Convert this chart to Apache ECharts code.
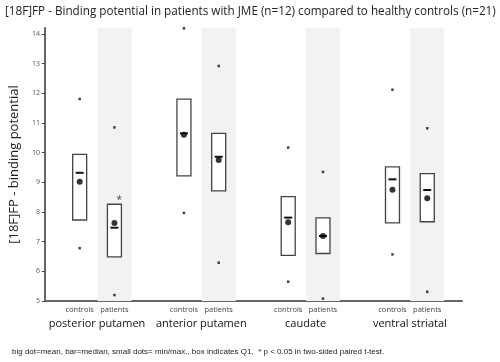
<!DOCTYPE html>
<html><head><meta charset="utf-8">
<script src="https://cdn.jsdelivr.net/npm/echarts@6/dist/echarts.min.js"></script>
<style>html,body{margin:0;padding:0;background:#fff}#c{width:500px;height:362px}</style>
</head><body><div id="c"></div>
<script>
// data
const regions = ["posterior putamen", "anterior putamen", "caudate", "ventral striatal"];
const groups = ["controls", "patients"];
// x positions (value axis units) for each box: controls / patients per region
const xPos = [1, 2, 4, 5, 7, 8, 10, 11];
const boxGroup = ["controls","patients","controls","patients","controls","patients","controls","patients"];
const q1     = [7.73, 6.49, 9.22, 8.71, 6.54, 6.60, 7.63, 7.67];
const q3     = [9.94, 8.26, 11.80, 10.65, 8.52, 7.80, 9.52, 9.29];
const median = [9.32, 7.47, 10.65, 9.86, 7.81, 7.19, 9.10, 8.74];
const mean   = [9.02, 7.63, 10.60, 9.75, 7.65, 7.19, 8.75, 8.46];
const minV   = [6.78, 5.20, 7.97, 6.29, 5.65, 5.08, 6.57, 5.31];
const maxV   = [11.81, 10.85, 14.19, 12.92, 10.17, 9.35, 12.12, 10.82];
const signif = [false, true, false, false, false, false, false, false];
const yTicks = [5, 6, 7, 8, 9, 10, 11, 12, 13, 14];
const title = "[18F]FP - Binding potential in patients with JME (n=12) compared to healthy controls (n=21)";
const yName = "[18F]FP - binding potential";
const footer = "big dot=mean, bar=median, small dots= min/max., box indicates Q1,  * p < 0.05 in two-sided paired t-test.";

const Y_MIN = 5, Y_MAX = 14.2;
const chart = echarts.init(document.getElementById('c'), null, {renderer: 'canvas'});
const FONT = "Open Sans";

const boxData = xPos.map((x, i) => [x, q1[i], q3[i], median[i], signif[i] ? 1 : 0]);
const bandData = xPos.filter((x, i) => boxGroup[i] === "patients").map(x => [x, Y_MAX]);

chart.setOption({
  animation: false,
  textStyle: {fontFamily: FONT},
  title: {text: title, left: 0, top: 1, textStyle: {fontSize: 11.7, fontWeight: 'normal', color: '#222', fontFamily: FONT}},
  graphic: [{type: 'text', left: 12, top: 348, style: {text: footer, fontSize: 8, fill: '#222', fontFamily: 'Liberation Sans'}}],
  grid: {left: 39, right: 38, top: 28, bottom: 61},
  xAxis: [{
    type: 'value', min: 0, max: 12, interval: 1,
    axisLine: {show: true, lineStyle: {color: '#666', width: 2}},
    axisTick: {show: false}, splitLine: {show: false},
    axisLabel: {fontSize: 7.5, color: '#444', margin: 5, fontFamily: FONT,
      formatter: v => { const i = xPos.indexOf(v); return i >= 0 ? boxGroup[i] : ''; }}
  }, {
    type: 'value', position: 'bottom', min: 0, max: 12, interval: 0.5,
    axisLine: {show: false}, axisTick: {show: false}, splitLine: {show: false},
    axisLabel: {fontSize: 11, color: '#111', margin: 17, fontFamily: FONT,
      formatter: v => { const i = xPos.indexOf(v - 0.5); return (i >= 0 && boxGroup[i] === 'controls') ? regions[Math.floor(i/2)] : ''; }}
  }],
  yAxis: {
    type: 'value', min: Y_MIN, max: Y_MAX, interval: 1,
    name: yName, nameLocation: 'middle', nameRotate: 90, nameGap: 20,
    nameTextStyle: {fontSize: 13, color: '#222', fontFamily: FONT},
    axisLine: {show: true, lineStyle: {color: '#666', width: 2}},
    axisTick: {show: true, length: 3, lineStyle: {color: '#444'}},
    splitLine: {show: false},
    axisLabel: {fontSize: 7, color: '#555', margin: 5, showMaxLabel: false,
      formatter: v => yTicks.indexOf(v) >= 0 ? String(v) : ''}
  },
  series: [{
    type: 'bar', data: bandData, barWidth: 34, itemStyle: {color: '#f2f2f2'}, silent: true, z: 0
  }, {
    type: 'custom', data: boxData, z: 3,
    renderItem: (params, api) => {
      const x = api.value(0);
      const pLo = api.coord([x, api.value(1)]);
      const pHi = api.coord([x, api.value(2)]);
      const pMed = api.coord([x, api.value(3)]);
      const w = 14;
      const children = [
        {type: 'rect', shape: {x: pHi[0] - w/2, y: pHi[1], width: w, height: pLo[1] - pHi[1]},
         style: {fill: '#fff', stroke: '#444', lineWidth: 1.3}},
        {type: 'line', shape: {x1: pMed[0] - 4, y1: pMed[1], x2: pMed[0] + 4, y2: pMed[1]},
         style: {stroke: '#111', lineWidth: 2}}
      ];
      if (api.value(4)) {
        children.push({type: 'text', x: pHi[0] + w/2 - 5, y: pHi[1] - 4,
          style: {text: '*', fontSize: 10, fill: '#444', fontFamily: FONT, align: 'left', verticalAlign: 'middle'}});
      }
      return {type: 'group', children};
    }
  }, {
    type: 'scatter', data: xPos.map((x, i) => [x, mean[i]]), symbol: 'circle', symbolSize: 6,
    itemStyle: {color: '#000'}, z: 5
  }, {
    type: 'scatter', data: xPos.map((x, i) => [x, minV[i]]).concat(xPos.map((x, i) => [x, maxV[i]])),
    symbol: 'rect', symbolSize: 2.5, itemStyle: {color: '#111'}, z: 5, clip: false
  }]
});
</script></body></html>
